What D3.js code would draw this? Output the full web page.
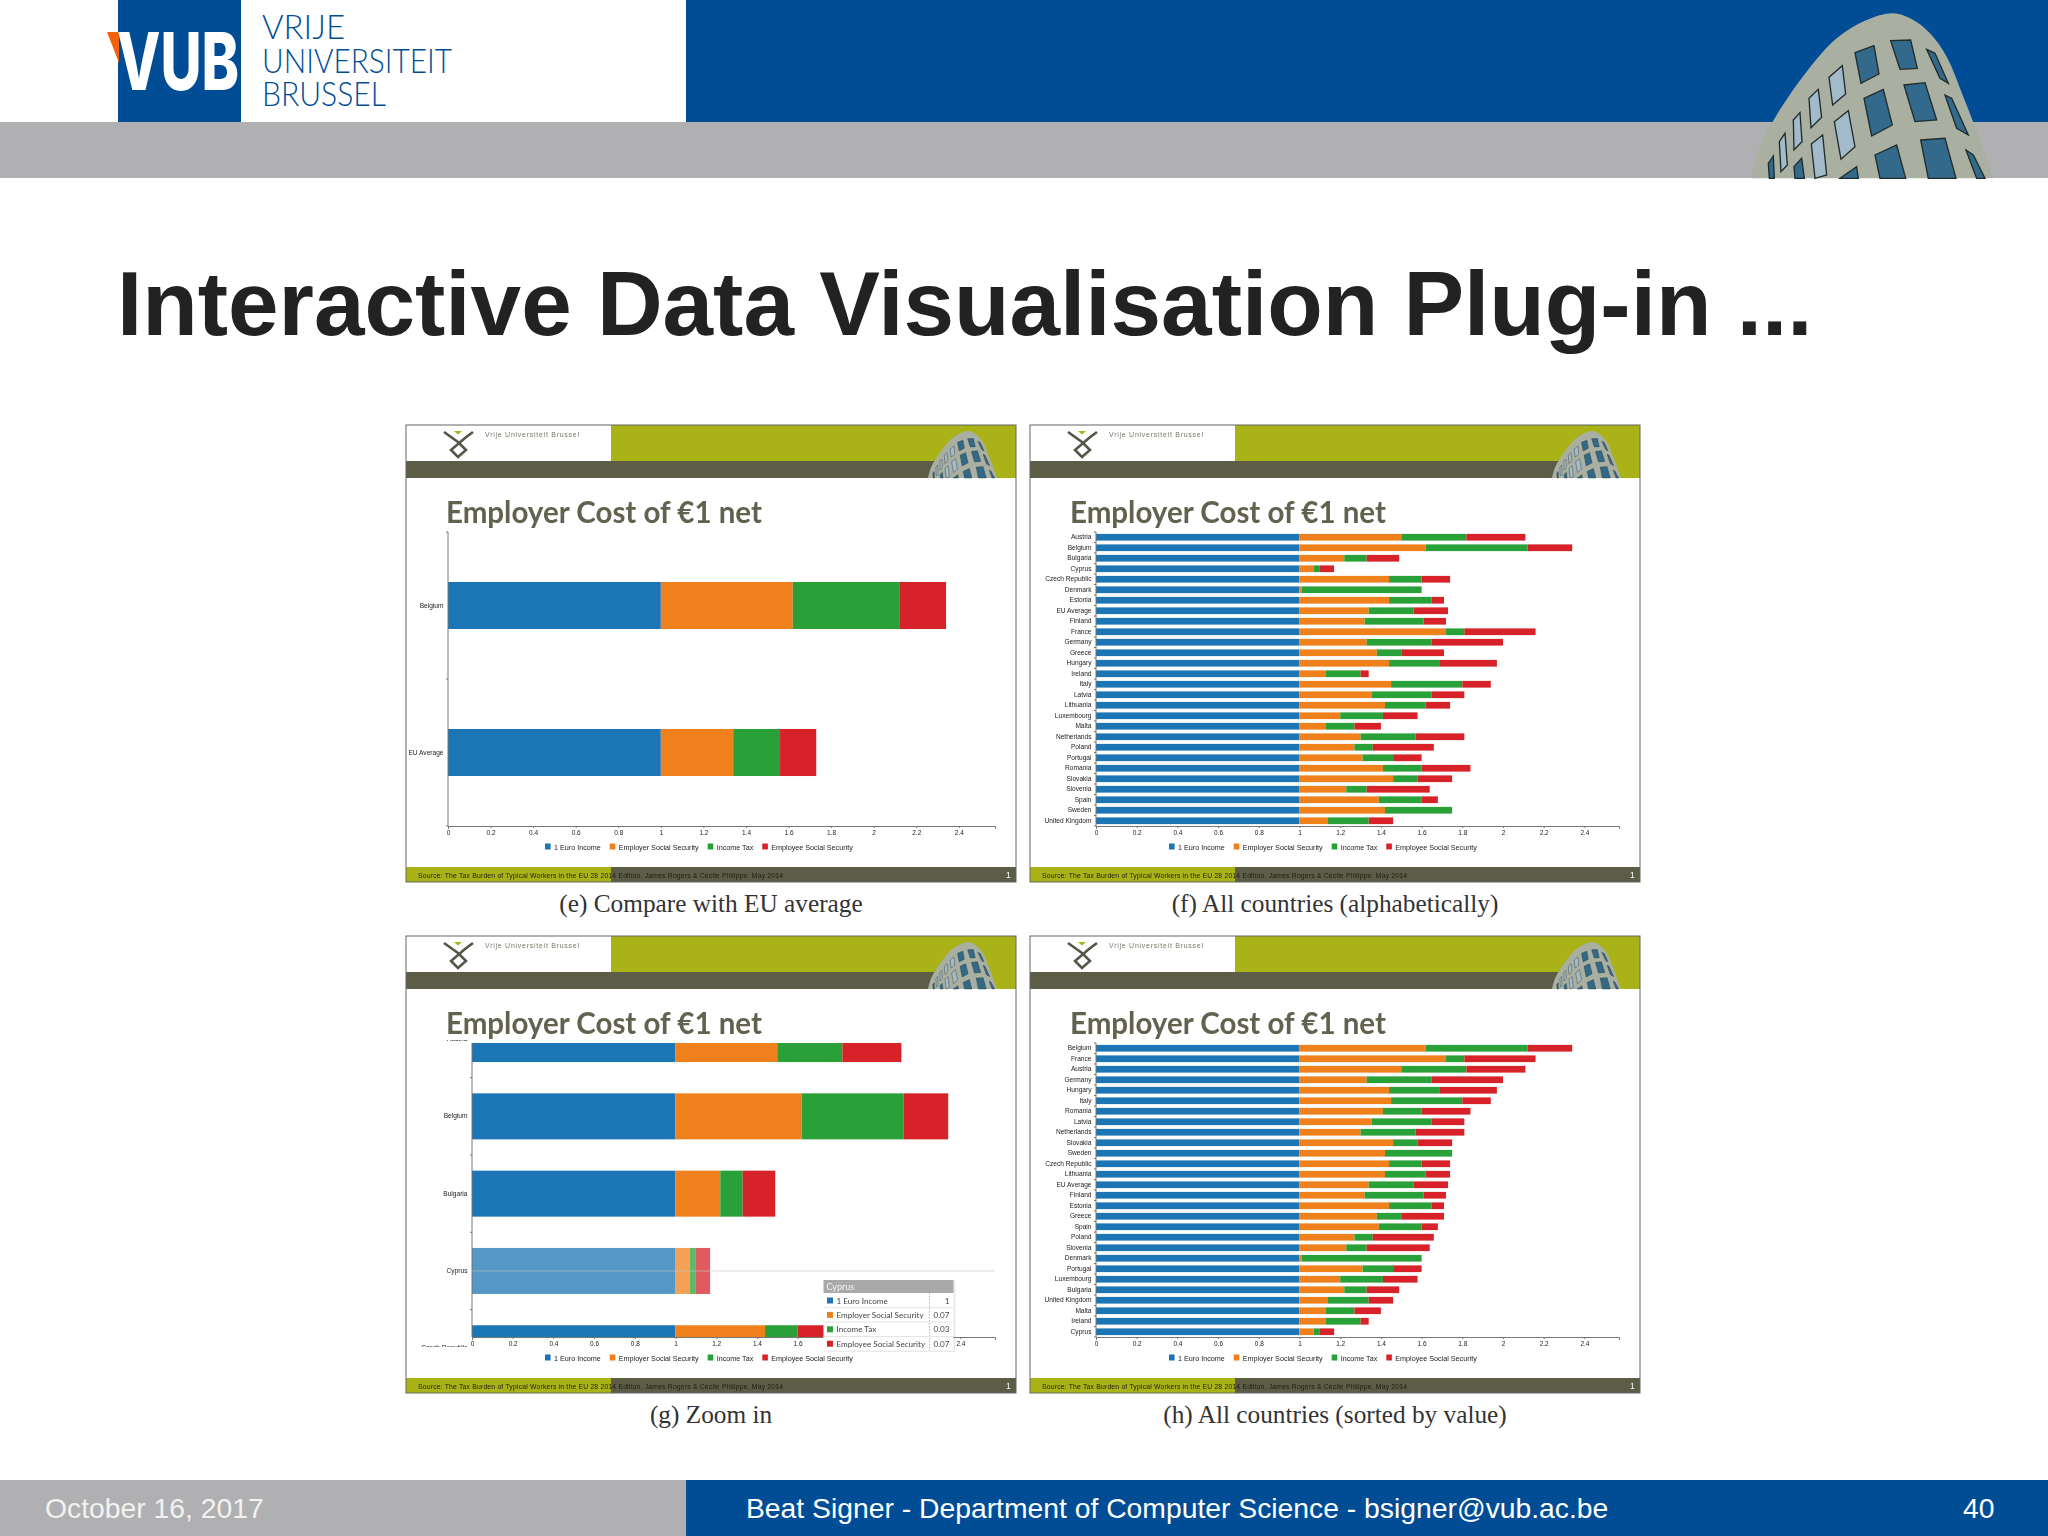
<!DOCTYPE html>
<html>
<head>
<meta charset="utf-8">
<script src="https://cdn.jsdelivr.net/npm/d3@7"></script>
<style>
  body { margin: 0; background: #fff; }
  svg { display: block; }
  .axis text { font-family: "Liberation Sans"; fill: #222; }
</style>
</head>
<body>
<div id="container"></div>
<script>
// data
const countries = ["Austria", "Belgium", "Bulgaria", "Cyprus", "Czech Republic", "Denmark", "Estonia", "EU Average", "Finland", "France", "Germany", "Greece", "Hungary", "Ireland", "Italy", "Latvia", "Lithuania", "Luxembourg", "Malta", "Netherlands", "Poland", "Portugal", "Romania", "Slovakia", "Slovenia", "Spain", "Sweden", "United Kingdom"];
const euroIncome = [1, 1, 1, 1, 1, 1, 1, 1, 1, 1, 1, 1, 1, 1, 1, 1, 1, 1, 1, 1, 1, 1, 1, 1, 1, 1, 1, 1];
const employerSocial = [0.50, 0.62, 0.22, 0.07, 0.44, 0.01, 0.44, 0.34, 0.32, 0.72, 0.33, 0.38, 0.44, 0.13, 0.45, 0.355, 0.42, 0.20, 0.13, 0.30, 0.27, 0.31, 0.41, 0.46, 0.23, 0.39, 0.42, 0.14];
const incomeTax = [0.32, 0.50, 0.11, 0.03, 0.16, 0.59, 0.21, 0.22, 0.29, 0.09, 0.32, 0.12, 0.25, 0.17, 0.35, 0.295, 0.20, 0.21, 0.14, 0.27, 0.09, 0.15, 0.19, 0.12, 0.10, 0.21, 0.33, 0.20];
const employeeSocial = [0.29, 0.22, 0.16, 0.07, 0.14, 0, 0.06, 0.17, 0.11, 0.35, 0.35, 0.21, 0.28, 0.04, 0.14, 0.16, 0.12, 0.17, 0.13, 0.24, 0.30, 0.14, 0.24, 0.17, 0.31, 0.08, 0, 0.12];

const compareCountries = ["Belgium", "EU Average"];
const zoomCountries = ["Austria", "Belgium", "Bulgaria", "Cyprus", "Czech Republic"];
const sortedCountries = ["Belgium", "France", "Austria", "Germany", "Hungary", "Italy", "Romania", "Latvia", "Netherlands", "Slovakia", "Sweden", "Czech Republic", "Lithuania", "EU Average", "Finland", "Estonia", "Greece", "Spain", "Poland", "Slovenia", "Denmark", "Portugal", "Luxembourg", "Bulgaria", "United Kingdom", "Malta", "Ireland", "Cyprus"];

const seriesNames = ["1 Euro Income", "Employer Social Security", "Income Tax", "Employee Social Security"];
const xTicks = [0, 0.2, 0.4, 0.6, 0.8, 1, 1.2, 1.4, 1.6, 1.8, 2, 2.2, 2.4];
const ticksUnderTooltip = [1.8, 2, 2.2];

const table = countries.map((c, i) => ({
  country: c,
  [seriesNames[0]]: euroIncome[i],
  [seriesNames[1]]: employerSocial[i],
  [seriesNames[2]]: incomeTax[i],
  [seriesNames[3]]: employeeSocial[i]
}));

const color = d3.scaleOrdinal(seriesNames, ["#1c75b4", "#f0801e", "#2ca037", "#d7232a"]);
const stack = d3.stack().keys(seriesNames);

const width = 2048;
const height = 1536;
const blue = "#004d96";
const grey = "#b0afb1";

const svg = d3.select("#container").append("svg")
  .attr("width", width)
  .attr("height", height)
  .attr("viewBox", [0, 0, width, height]);

svg.append("rect").attr("width", width).attr("height", height).attr("fill", "#fff");

// the screenshots in the slide are soft, the blur gives the same look
svg.append("filter").attr("id", "soft")
  .attr("x", "-2%").attr("y", "-2%").attr("width", "104%").attr("height", "104%")
  .append("feGaussianBlur").attr("stdDeviation", 0.45);

// building from the slide template, drawn in its own 3x units
const buildingOutline = [[215, 535], [240, 440], [290, 345], [380, 215], [470, 115], [560, 60], [640, 40], [700, 60], [750, 100], [800, 170], [850, 290], [900, 420], [940, 535]];
const buildingWindows = [
  "525,158 582,137 597,222 543,250", "632,122 692,120 712,205 660,208", "740,148 765,160 805,250 780,235",
  "447,232 487,197 497,282 458,315", "387,295 415,268 425,352 393,383", "340,360 360,338 366,425 342,450",
  "298,425 315,400 322,495 303,515", "265,490 280,468 283,535 268,535", "552,295 610,268 637,375 575,408",
  "672,255 735,248 770,360 705,365", "795,285 815,295 865,405 830,385", "463,365 505,332 525,440 483,478",
  "394,432 428,405 440,525 405,535", "342,500 365,475 373,535 345,535", "585,465 650,435 677,535 600,535",
  "722,420 795,415 828,535 745,535", "858,450 880,465 915,535 890,535", "480,535 530,500 535,535"
];
const paleWindows = [3, 4, 5, 6, 11, 12];
const outlinePath = d3.line().curve(d3.curveCatmullRom);

function drawBuilding(parent, transform) {
  const g = parent.append("g").attr("transform", transform);
  g.append("path").attr("d", outlinePath(buildingOutline) + "Z").attr("fill", "#a9afa1");
  g.selectAll("polygon").data(buildingWindows).join("polygon")
    .attr("points", d => d)
    .attr("fill", (d, i) => paleWindows.includes(i) ? "#a3bacb" : "#33698a")
    .attr("stroke", "#1f2c2c")
    .attr("stroke-width", 4);
}

// main slide header
svg.append("rect").attr("x", 686).attr("width", width - 686).attr("height", 122).attr("fill", blue);
svg.append("rect").attr("y", 122).attr("width", width).attr("height", 56).attr("fill", grey);
svg.append("rect").attr("x", 118).attr("width", 123).attr("height", 122).attr("fill", blue);
svg.append("polygon").attr("points", "107,32 119,32 119,63").attr("fill", "#f4600c");
svg.append("text").attr("x", 117).attr("y", 90)
  .attr("font-family", "Inter").attr("font-weight", 800).attr("font-size", 80)
  .attr("textLength", 122).attr("lengthAdjust", "spacingAndGlyphs")
  .attr("fill", "#fff").text("VUB");

[["VRIJE", 39, 83], ["UNIVERSITEIT", 72.7, 190], ["BRUSSEL", 105.7, 124]].forEach(([t, y, w]) => {
  svg.append("text").attr("x", 262).attr("y", y)
    .attr("font-family", "Lato").attr("font-weight", 300).attr("font-size", 33)
    .attr("textLength", w).attr("lengthAdjust", "spacingAndGlyphs")
    .attr("fill", blue).text(t);
});

drawBuilding(svg, "translate(1680,0) scale(0.3333)");

svg.append("text").attr("x", 117).attr("y", 335)
  .attr("font-family", "Liberation Sans").attr("font-weight", 700).attr("font-size", 90.9)
  .attr("fill", "#222").text("Interactive Data Visualisation Plug-in ...");

// main slide footer
svg.append("rect").attr("y", 1480).attr("width", 686).attr("height", 56).attr("fill", grey);
svg.append("rect").attr("x", 686).attr("y", 1480).attr("width", width - 686).attr("height", 56).attr("fill", blue);
[["October 16, 2017", 45, "#f2f2f2"],
 ["Beat Signer - Department of Computer Science - bsigner@vub.ac.be", 746, "#fff"],
 ["40", 1963, "#fff"]].forEach(([t, x, c]) => {
  svg.append("text").attr("x", x).attr("y", 1518)
    .attr("font-family", "Liberation Sans").attr("font-size", 28.3)
    .attr("fill", c).text(t);
});

const panelW = 610;
const panelH = 457;
const axisTop = 107;
const axisBottom = 401;

function drawPanel(id, px, py, opts) {
  const g = svg.append("g").attr("transform", `translate(${px},${py})`).attr("filter", "url(#soft)");

  // slide template inside the screenshot
  g.append("rect").attr("width", panelW).attr("height", panelH).attr("fill", "#fff");
  g.append("rect").attr("x", 205).attr("width", panelW - 205).attr("height", 53).attr("fill", "#a9b214");
  g.append("rect").attr("y", 36).attr("width", 540).attr("height", 17).attr("fill", "#5d5c47");
  drawBuilding(g, "translate(501.6,2.2) scale(0.095)");
  g.append("path")
    .attr("transform", "translate(37,6)")
    .attr("d", "M1,1 L15,11 L23,19 L15,26 L8,19 L22,7 L30,1")
    .attr("fill", "none").attr("stroke", "#55554a").attr("stroke-width", 2.6);
  g.append("polygon").attr("transform", "translate(37,6)").attr("points", "11,0 19,0 15,3.5").attr("fill", "#a9b214");
  g.append("text").attr("x", 79).attr("y", 11.5)
    .attr("font-family", "Liberation Sans").attr("font-size", 7)
    .attr("textLength", 94).attr("fill", "#77776c").text("Vrije Universiteit Brussel");

  g.append("text").attr("x", 40).attr("y", 98)
    .attr("font-family", "Lato").attr("font-weight", 700).attr("font-size", 29.5)
    .attr("fill", "#626250").text("Employer Cost of €1 net");

  g.append("rect").attr("y", 442).attr("width", panelW).attr("height", 15).attr("fill", "#5d5c47");
  g.append("rect").attr("y", 442).attr("width", 205).attr("height", 15).attr("fill", "#a9b214");
  g.append("text").attr("x", 12).attr("y", 452.5)
    .attr("font-family", "Liberation Sans").attr("font-size", 6.8)
    .attr("textLength", 365).attr("fill", "#1e1e14")
    .text("Source: The Tax Burden of Typical Workers in the EU 28 2014 Edition. James Rogers & Cécile Philippe. May 2014");
  g.append("text").attr("x", 600).attr("y", 453)
    .attr("font-family", "Liberation Sans").attr("font-size", 8.5)
    .attr("fill", "#fff").text("1");

  // scales
  const x = d3.scaleLinear().domain([0, 2.57]).range([opts.x0, 589]);
  const y = d3.scaleBand().domain(opts.rows).range(opts.yRange)
    .paddingInner(opts.padding).paddingOuter(opts.padding / 2);
  const rows = table.filter(d => opts.rows.includes(d.country));

  g.append("clipPath").attr("id", `bars-${id}`)
    .append("rect").attr("x", opts.x0).attr("y", axisTop).attr("width", 589 - opts.x0).attr("height", axisBottom - axisTop);
  g.append("clipPath").attr("id", `labels-${id}`)
    .append("rect").attr("x", 0).attr("y", axisTop - 3).attr("width", opts.x0).attr("height", axisBottom - axisTop + 13);

  // stacked bars
  g.append("g").attr("clip-path", `url(#bars-${id})`)
    .selectAll("g")
    .data(stack(rows))
    .join("g")
      .attr("fill", d => color(d.key))
    .selectAll("rect")
    .data(d => d)
    .join("rect")
      .attr("x", d => x(d[0]))
      .attr("y", d => y(d.data.country))
      .attr("width", d => x(d[1]) - x(d[0]))
      .attr("height", y.bandwidth())
      .attr("opacity", d => d.data.country === opts.hover ? 0.75 : 1);

  // hover guide line
  if (opts.hover) {
    const cy = y(opts.hover) + y.bandwidth() / 2;
    g.append("line")
      .attr("x1", opts.x0).attr("x2", 589)
      .attr("y1", cy).attr("y2", cy)
      .attr("stroke", "#c4c4c4").attr("stroke-opacity", 0.6);
  }

  // x axis
  const hidden = opts.hover ? ticksUnderTooltip : [];
  const xAxis = g.append("g").attr("class", "axis")
    .attr("transform", `translate(0,${axisBottom})`)
    .call(d3.axisBottom(x).tickValues(xTicks).tickSize(2).tickSizeOuter(3).tickPadding(2)
      .tickFormat(d => hidden.includes(d) ? "" : String(d)));
  xAxis.selectAll("text").attr("font-size", 6.5);
  xAxis.selectAll("path,line").attr("stroke", "#777");

  // y axis, labels on the band centres and ticks on the band edges
  const yLabels = g.append("g").attr("clip-path", `url(#labels-${id})`);
  yLabels.append("g").attr("class", "axis")
    .attr("transform", `translate(${opts.x0},0)`)
    .call(d3.axisLeft(y).tickSize(0).tickPadding(4.5))
    .call(s => s.select(".domain").remove())
    .selectAll("text").attr("font-size", 6.6);

  const edges = opts.rows.map(d => y(d) - (y.step() - y.bandwidth()) / 2);
  edges.push(edges[edges.length - 1] + y.step());
  yLabels.selectAll("line.edge").data(edges).join("line")
    .attr("class", "edge")
    .attr("x1", opts.x0 - 2).attr("x2", opts.x0)
    .attr("y1", d => d).attr("y2", d => d)
    .attr("stroke", "#777");
  g.append("line")
    .attr("x1", opts.x0).attr("x2", opts.x0)
    .attr("y1", axisTop).attr("y2", axisBottom)
    .attr("stroke", "#777");

  // legend
  let lx = 139;
  seriesNames.forEach(name => {
    const item = g.append("g").attr("transform", `translate(${lx},418.5)`);
    item.append("rect").attr("width", 5.6).attr("height", 6).attr("fill", color(name));
    const label = item.append("text").attr("x", 9).attr("y", 6)
      .attr("font-family", "Liberation Sans").attr("font-size", 7.2)
      .attr("fill", "#222").text(name);
    lx += 9 + label.node().getComputedTextLength() + 9;
  });

  // caption under the screenshot
  svg.append("text").attr("x", px + panelW / 2).attr("y", py + opts.captionY)
    .attr("text-anchor", "middle")
    .attr("font-family", "Liberation Serif").attr("font-size", 25.3)
    .attr("fill", "#333").text(opts.caption);

  // frame
  g.append("rect").attr("width", panelW).attr("height", panelH)
    .attr("fill", "none").attr("stroke", "#666");

  if (opts.hover) drawTooltip(g, opts.hover);
}

function drawTooltip(g, name) {
  const row = table.find(d => d.country === name);
  const t = g.append("g").attr("transform", "translate(417.5,344)");
  t.append("rect").attr("x", 1).attr("y", 1).attr("width", 131).attr("height", 71).attr("fill", "#000").attr("opacity", 0.08);
  t.append("rect").attr("width", 130).attr("height", 70.5).attr("fill", "#fff");
  t.append("rect").attr("width", 130).attr("height", 13).attr("fill", "#a9a9a9");
  t.append("text").attr("x", 3).attr("y", 9.8)
    .attr("font-family", "Lato").attr("font-size", 9).attr("fill", "#f4f4f4").text(name);
  t.append("line").attr("x1", 106).attr("x2", 106).attr("y1", 13).attr("y2", 70.5)
    .attr("stroke", "#bbb").attr("stroke-dasharray", "1.5,1.5");
  seriesNames.forEach((s, i) => {
    const rowY = 20.5 + i * 14.4;
    t.append("rect").attr("x", 3.5).attr("y", rowY - 3).attr("width", 6).attr("height", 6).attr("fill", color(s));
    t.append("text").attr("x", 13).attr("y", rowY + 3)
      .attr("font-family", "Lato").attr("font-size", 8.1).attr("fill", "#444").text(s);
    t.append("text").attr("x", 126).attr("y", rowY + 3).attr("text-anchor", "end")
      .attr("font-family", "Lato").attr("font-size", 8.1).attr("fill", "#444").text(row[s]);
    if (i > 0) {
      t.append("line").attr("x1", 0).attr("x2", 130).attr("y1", rowY - 7.2).attr("y2", rowY - 7.2)
        .attr("stroke", "#e4e4e4");
    }
  });
}

const fullRange = [axisTop, axisBottom];
const zoomStep = 77.3;

drawPanel("e", 406, 425, {
  rows: compareCountries, x0: 42, yRange: fullRange, padding: 0.68, captionY: 487,
  caption: "(e) Compare with EU average"
});
drawPanel("f", 1030, 425, {
  rows: countries, x0: 66, yRange: fullRange, padding: 0.36, captionY: 487,
  caption: "(f) All countries (alphabetically)"
});
drawPanel("g", 406, 936, {
  rows: zoomCountries, x0: 66, yRange: [64.4, 64.4 + zoomStep * zoomCountries.length], padding: 0.405, captionY: 487,
  caption: "(g) Zoom in", hover: "Cyprus"
});
drawPanel("h", 1030, 936, {
  rows: sortedCountries, x0: 66, yRange: fullRange, padding: 0.36, captionY: 487,
  caption: "(h) All countries (sorted by value)"
});
</script>
</body>
</html>
